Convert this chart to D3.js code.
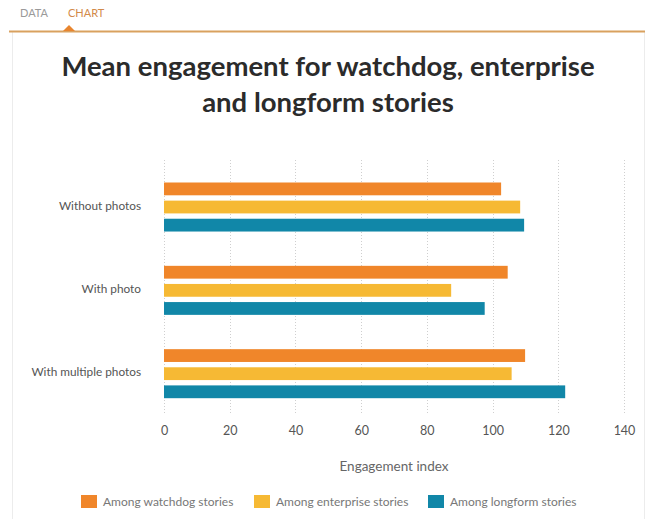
<!DOCTYPE html>
<html><head><meta charset="utf-8">
<script src="https://cdn.jsdelivr.net/npm/d3@7/dist/d3.min.js"></script>
<style>
html,body{margin:0;padding:0;background:#fff;}
svg{display:block;font-family:Lato,"Open Sans",sans-serif;}
</style></head>
<body>
<svg id="c" width="653" height="519"></svg>
<script>
const categories = ["Without photos", "With photo", "With multiple photos"];
const seriesNames = ["Among watchdog stories", "Among enterprise stories", "Among longform stories"];
const watchdog = [102.6, 104.6, 109.9];
const enterprise = [108.4, 87.4, 105.8];
const longform = [109.6, 97.6, 122.1];
const tickValues = [0, 20, 40, 60, 80, 100, 120, 140];
const colors = ["#f0862a", "#f6b934", "#1187a8"];
const seriesValues = [watchdog, enterprise, longform];

const svg = d3.select("#c");

// frame / tabs
svg.append("line").attr("x1",12.5).attr("x2",12.5).attr("y1",32).attr("y2",519).attr("stroke","#ececec");
svg.append("line").attr("x1",644.5).attr("x2",644.5).attr("y1",32).attr("y2",519).attr("stroke","#ececec");
svg.append("line").attr("x1",9).attr("x2",645).attr("y1",31.5).attr("y2",31.5).attr("stroke","#d9a15f").attr("stroke-width",2);
svg.append("path").attr("d","M63,31 L69,25 L75,31 Z").attr("fill","#e8852f");
svg.append("text").attr("x",20).attr("y",17).attr("font-size",11).attr("fill","#9a9a9a").text("DATA");
svg.append("text").attr("x",68).attr("y",17).attr("font-size",11).attr("fill","#d28a4a").text("CHART");

// title
const title = svg.append("text").attr("text-anchor","middle").attr("font-size",27.5).attr("font-weight",700).attr("fill","#2b2b2b");
title.append("tspan").attr("x",328).attr("y",76).text("Mean engagement for watchdog, enterprise");
title.append("tspan").attr("x",328).attr("y",112).text("and longform stories");

const x = d3.scaleLinear().domain([0,140]).range([164,624]);
const y0 = d3.scaleBand().domain(categories).range([162,412]).paddingInner(0).paddingOuter(0);
const y1 = d3.scaleBand().domain(d3.range(3)).range([0,50]).paddingInner(0.24);

// grid
svg.append("g").selectAll("line").data(tickValues).join("line")
  .attr("x1",d=>Math.round(x(d))+0.5).attr("x2",d=>Math.round(x(d))+0.5)
  .attr("y1",160).attr("y2",413)
  .attr("stroke","#cfcfcf").attr("stroke-dasharray","1,2");

// x axis
const ax = svg.append("g").attr("transform","translate(0,413)")
  .call(d3.axisBottom(x).tickValues(tickValues).tickSize(0).tickPadding(13));
ax.select(".domain").remove();
ax.selectAll("text").attr("font-size",12.5).attr("fill","#555").attr("font-family","Lato,'Open Sans',sans-serif");

// bars
const groups = svg.append("g").selectAll("g").data(categories).join("g")
  .attr("transform",(d)=>`translate(0,${y0(d)+20.5})`);
groups.selectAll("rect").data((d,i)=>seriesValues.map((s,k)=>({k, v:s[i]}))).join("rect")
  .attr("x",x(0)).attr("y",d=>y1(d.k)).attr("height",12.8)
  .attr("width",d=>x(d.v)-x(0)).attr("fill",d=>colors[d.k]);

// y labels
svg.append("g").selectAll("text").data(categories).join("text")
  .attr("x",141).attr("y",d=>y0(d)+20.5+16.5+10.5).attr("text-anchor","end")
  .attr("font-size",11.8).attr("fill","#555").text(d=>d);

// axis title
svg.append("text").attr("x",394).attr("y",471).attr("text-anchor","middle").attr("font-size",13.5).attr("fill","#666").text("Engagement index");

// legend
const legX = [81, 254, 428];
const lg = svg.append("g").selectAll("g").data(seriesNames).join("g")
  .attr("transform",(d,i)=>`translate(${legX[i]},495)`);
lg.append("rect").attr("width",16).attr("height",13).attr("fill",(d,i)=>colors[i]);
lg.append("text").attr("x",22).attr("y",11).attr("font-size",12).attr("fill","#777").text(d=>d);
</script>
</body></html>
